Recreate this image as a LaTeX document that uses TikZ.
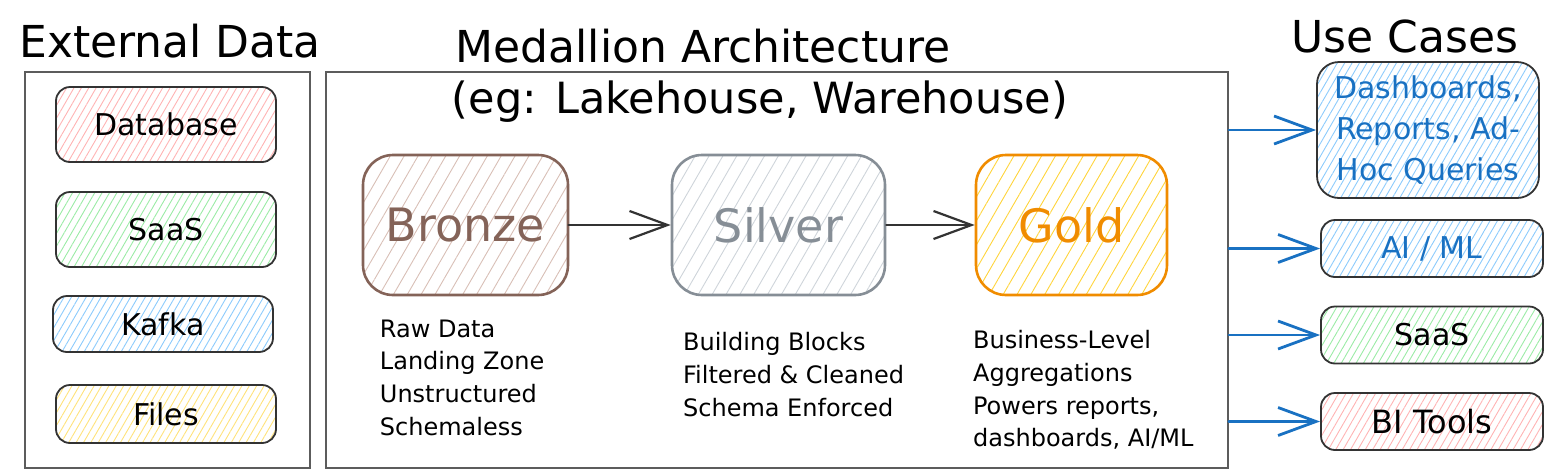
\documentclass[tikz,border=0pt]{standalone}
\usepackage{fontspec}
\setmainfont{DejaVu Sans}
\usetikzlibrary{arrows.meta,patterns.meta,positioning}

\definecolor{bronzeline}{HTML}{846358}
\definecolor{bronzefill}{HTML}{D8BFB6}
\definecolor{silverline}{HTML}{868E96}
\definecolor{silverfill}{HTML}{CED4DA}
\definecolor{goldline}{HTML}{F08C00}
\definecolor{goldfill}{HTML}{FFD43B}
\definecolor{redfill}{HTML}{FFB3B3}
\definecolor{greenfill}{HTML}{9BEBA6}
\definecolor{bluefill}{HTML}{8CCBFC}
\definecolor{yellowfill}{HTML}{FFE27A}
\definecolor{useblue}{HTML}{1971C2}
\definecolor{groupline}{HTML}{5C5C5C}

\begin{document}
\begin{tikzpicture}[x=0.5pt, y=-0.5pt,
  title/.style = {font=\fontsize{22}{26}\selectfont, anchor=base, inner sep=0pt},
  group/.style = {draw=groupline, line width=0.9pt, minimum height=198pt},
  hatch/.style = {pattern={Lines[angle=60,distance=#1,line width=0.45pt]}},
  src/.style = {draw=black!80, line width=0.9pt, rounded corners=7pt, hatch=3.2pt,
    minimum width=110pt, font=\fontsize{15}{18}\selectfont},
  layer/.style = {line width=1.3pt, rounded corners=15pt, hatch=6pt,
    minimum height=70pt, font=\fontsize{23}{26}\selectfont},
  usecase/.style = {draw=black!80, line width=0.9pt, rounded corners=7pt, hatch=3.2pt,
    minimum width=111pt, minimum height=28.5pt, font=\fontsize{15}{18}\selectfont},
  note/.style = {align=left, inner sep=0pt, anchor=north west,
    font=\fontsize{12}{16.3}\selectfont},
  flow/.style = {-{Straight Barb[length=19pt,width=14pt]}, line width=1.1pt,
    draw=black!80, line cap=round},
  feed/.style = {flow, draw=useblue, line width=1.4pt}]
\useasboundingbox (0,0) rectangle (1549,472);

% external data
\node[title] (exttitle) at (170,57) {External Data};
\node[group, minimum width=142.5pt] (ext) at (167.5,270) {};
\node[src, pattern color=redfill, minimum height=37.5pt] (db) at (166,124.5) {Database};
\node[src, pattern color=greenfill, minimum height=37.5pt] (saas) at (166,229.5) {SaaS};
\node[src, pattern color=bluefill, minimum height=28pt] (kafka) at (163,324) {Kafka};
\node[src, pattern color=yellowfill, minimum height=29pt] (files) at (166,414) {Files};

% medallion layers
\node[title] (medtitle) at (703,62) {Medallion Architecture};
\node[group, minimum width=451pt] (med) at (777,270) {};
\node[title, font=\fontsize{21.5}{26}\selectfont] (medsub) at (760,113) {(eg: Lakehouse, Warehouse)};
\node[layer, draw=bronzeline, pattern color=bronzefill, text=bronzeline,
  minimum width=102.5pt] (bronze) at (465.5,225) {Bronze};
\node[layer, draw=silverline, pattern color=silverfill, text=silverline,
  minimum width=106.5pt] (silver) at (778.5,225) {Silver};
\node[layer, draw=goldline, pattern color=goldfill, text=goldline,
  minimum width=95.5pt] (gold) at (1071.5,225) {Gold};
\draw[flow] (bronze) -- (silver);
\draw[flow] (silver) -- (gold);

\node[note, below right=12pt and 8.5pt of bronze.south west, anchor=north west] (bronzenote)
  {Raw Data\\Landing Zone\\Unstructured\\Schemaless};
\node[note, below right=18pt and 6pt of silver.south west, anchor=north west] (silvernote)
  {Building Blocks\\Filtered \& Cleaned\\Schema Enforced};
\node[note, below=17pt of gold.south west, anchor=north west, xshift=-1pt] (goldnote)
  {Business-Level\\Aggregations\\Powers reports,\\dashboards, AI/ML};

% use cases
\node[title] (usetitle) at (1405,52) {Use Cases};
\node[usecase, pattern color=bluefill, text=useblue, minimum height=68pt, rounded corners=11pt,
  align=center, font=\fontsize{15}{20.5}\selectfont] (dash) at (1428,130)
  {Dashboards,\\Reports, Ad-\\Hoc Queries};
\node[usecase, pattern color=bluefill, text=useblue] (ai) at (1432,248.5) {AI / ML};
\node[usecase, pattern color=greenfill] (saasuse) at (1432,335) {SaaS};
\node[usecase, pattern color=redfill, font=\fontsize{16}{19}\selectfont] (bi) at (1432,421.5) {BI Tools};

\draw[feed] (med.east |- dash) -- (dash);
\draw[feed] (med.east |- ai) -- (ai);
\draw[feed] (med.east |- saasuse) -- (saasuse);
\draw[feed] (med.east |- bi) -- (bi);
\end{tikzpicture}
\end{document}
